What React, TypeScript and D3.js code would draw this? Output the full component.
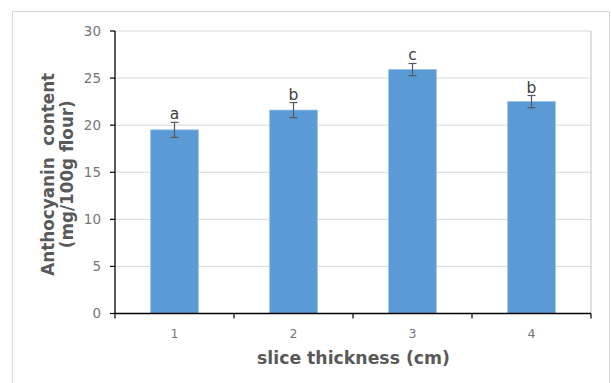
import * as React from "react";
import * as d3 from "d3";

const categories = ["1", "2", "3", "4"];
const values = [19.5, 21.6, 25.9, 22.5];
const errors = [0.8, 0.8, 0.65, 0.65];
const letters = ["a", "b", "c", "b"];
const yTicks = [0, 5, 10, 15, 20, 25, 30];

const W = 611;
const H = 383;
const left = 115;
const right = 591;
const top = 31;
const bottom = 313.5;
const font = "'DejaVu Sans', Verdana, sans-serif";

export default function App() {
  const x = d3.scaleBand().domain(categories).range([left, right]).padding(0);
  const y = d3.scaleLinear().domain([0, 30]).range([bottom, top]);
  const bw = x.bandwidth() * 0.4;
  const bounds = d3.range(categories.length + 1).map((i) => left + i * x.step());

  return (
    <svg
      width={W}
      height={H}
      style={{ position: "absolute", left: 0, top: 0, background: "#fff" }}
    >
      <rect x={12.5} y={11.5} width={597} height={400} fill="#fff" stroke="#d9d9d9" />
      {yTicks.slice(1).map((t) => (
        <line key={t} x1={left} x2={right} y1={y(t)} y2={y(t)} stroke="#d9d9d9" strokeWidth={1} />
      ))}
      <line x1={right} x2={right} y1={top} y2={bottom} stroke="#bfbfbf" />
      {categories.map((c, i) => {
        const cx = x(c)! + x.bandwidth() / 2;
        return (
          <g key={c}>
            <rect
              x={cx - bw / 2}
              y={y(values[i])}
              width={bw}
              height={y(0) - y(values[i])}
              fill="#5b9bd5"
              stroke="#8fbbe6"
              strokeWidth={0.8}
            />
            <line x1={cx} x2={cx} y1={y(values[i] + errors[i])} y2={y(values[i] - errors[i])} stroke="#595959" strokeWidth={1.2} />
            <line x1={cx - 4} x2={cx + 4} y1={y(values[i] + errors[i])} y2={y(values[i] + errors[i])} stroke="#595959" strokeWidth={1.2} />
            <line x1={cx - 4} x2={cx + 4} y1={y(values[i] - errors[i])} y2={y(values[i] - errors[i])} stroke="#595959" strokeWidth={1.2} />
            <text x={cx} y={y(values[i] + errors[i]) - 3} textAnchor="middle" fontFamily={font} fontSize={15.5} fill="#404040">
              {letters[i]}
            </text>
            <text x={cx} y={338} textAnchor="middle" fontFamily={font} fontSize={12.5} fill="#767676">
              {c}
            </text>
          </g>
        );
      })}
      <line x1={left} x2={left} y1={top} y2={bottom} stroke="#000" strokeWidth={1.3} />
      <line x1={left} x2={right} y1={bottom} y2={bottom} stroke="#000" strokeWidth={1.3} />
      {yTicks.map((t) => (
        <g key={t}>
          <line x1={left - 5} x2={left} y1={y(t)} y2={y(t)} stroke="#000" strokeWidth={1.2} />
          <text x={101} y={y(t) + 4.5} textAnchor="end" fontFamily={font} fontSize={13.5} fill="#767676">
            {t}
          </text>
        </g>
      ))}
      {bounds.map((b, i) => (
        <line key={i} x1={b} x2={b} y1={bottom} y2={bottom + 5} stroke="#000" strokeWidth={1.2} />
      ))}
      <text x={(left + right) / 2 + 0.5} y={364} textAnchor="middle" fontFamily={font} fontSize={17.3} fontWeight="bold" fill="#595959">
        slice thickness (cm)
      </text>
      <g transform={`translate(0, ${(top + bottom) / 2 + 2}) rotate(-90)`}>
        <text x={0} y={54} textAnchor="middle" fontFamily={font} fontSize={16.8} fontWeight="bold" fill="#595959" style={{ whiteSpace: "pre" }}>
          {"Anthocyanin  content"}
        </text>
        <text x={0} y={73} textAnchor="middle" fontFamily={font} fontSize={16.8} fontWeight="bold" fill="#595959">
          (mg/100g flour)
        </text>
      </g>
    </svg>
  );
}
